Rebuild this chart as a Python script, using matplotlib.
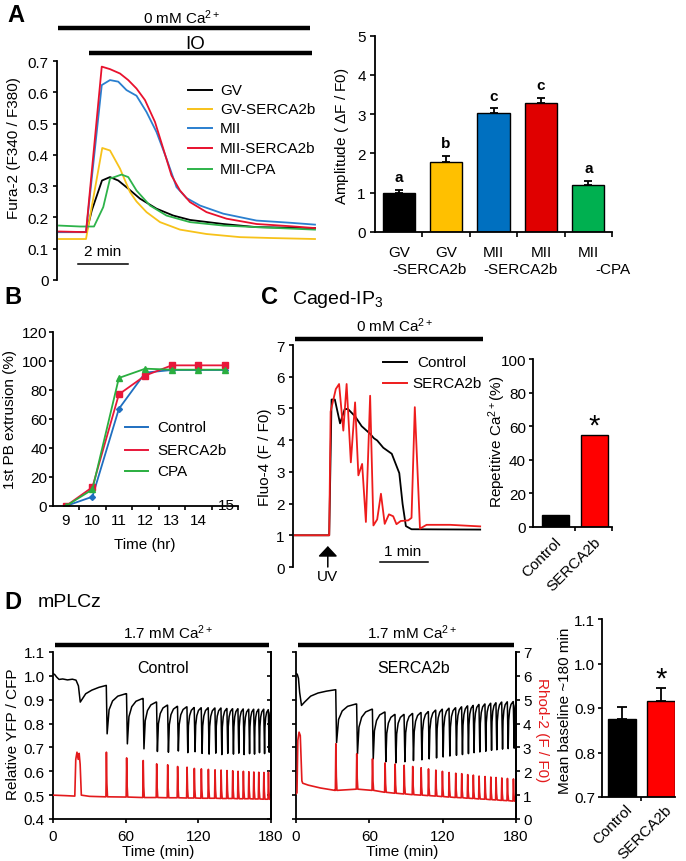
import matplotlib
matplotlib.use('Agg')
import matplotlib.pyplot as plt

# ---------------- data ----------------
# A: Fura-2 ratio traces (time in min from start of record)
gv_t = [0, 1.1, 1.31, 1.72, 2.04, 2.37, 2.77, 3.24, 3.9, 4.57, 5.24, 6.57, 7.9, 10.24]
gv_v = [0.153, 0.153, 0.222, 0.318, 0.329, 0.318, 0.292, 0.26, 0.228, 0.206, 0.192, 0.179, 0.169, 0.166]
gvs_t = [0, 1.08, 1.73, 2.04, 2.44, 2.84, 3.1, 3.5, 4.04, 4.84, 5.9, 7.24, 8.57, 10.24]
gvs_v = [0.131, 0.131, 0.422, 0.414, 0.356, 0.281, 0.251, 0.217, 0.185, 0.161, 0.147, 0.137, 0.134, 0.131]
mii_t = [0, 1.08, 1.71, 2.04, 2.37, 2.7, 3.1, 3.5, 3.9, 4.3, 4.7, 5.1, 5.64, 6.57, 7.9, 9.24, 10.24]
mii_v = [0.153, 0.153, 0.623, 0.639, 0.634, 0.607, 0.589, 0.537, 0.473, 0.388, 0.297, 0.262, 0.238, 0.212, 0.19, 0.183, 0.177]
miis_t = [0, 1.08, 1.71, 2.04, 2.44, 2.77, 3.1, 3.44, 3.84, 4.17, 4.5, 4.84, 5.24, 5.9, 6.7, 7.9, 9.24, 10.24]
miis_v = [0.155, 0.153, 0.682, 0.674, 0.66, 0.639, 0.612, 0.575, 0.505, 0.42, 0.334, 0.286, 0.249, 0.217, 0.196, 0.179, 0.172, 0.166]
cpa_t = [0, 0.84, 1.4, 1.77, 2.04, 2.5, 2.77, 3.1, 3.64, 4.3, 5.24, 6.57, 7.9, 10.24]
cpa_v = [0.174, 0.171, 0.171, 0.233, 0.324, 0.337, 0.329, 0.286, 0.238, 0.206, 0.185, 0.174, 0.169, 0.161]

# A: amplitude bars
amp_top = ['GV', 'GV', 'MII', 'MII', 'MII']
amp_sub = ['', '-SERCA2b', '', '-SERCA2b', '-CPA']
amp_mean = [0.99, 1.77, 3.02, 3.28, 1.19]
amp_err = [0.08, 0.17, 0.13, 0.14, 0.11]
amp_sig = ['a', 'b', 'c', 'c', 'a']

# B: 1st polar body extrusion (%)
pb_hr = [9, 10, 11, 12, 13, 14, 15]
pb_ctrl = [0, 6.4, 67, 92, 93.8, 93.8, 93.8]
pb_serca = [0, 13, 77, 90, 97, 97, 97]
pb_cpa = [0, 11.4, 88.3, 94.7, 94, 94, 94]

# C: caged-IP3 Fluo-4 traces (min)
ip3_ctrl_t = [0, 0.73, 0.78, 0.85, 0.96, 1.06, 1.13, 1.28, 1.42, 1.6, 1.68, 1.75, 1.88, 2.06, 2.22, 2.29, 2.36, 2.48, 3.94]
ip3_ctrl_v = [1.0, 1.0, 5.28, 5.28, 4.53, 4.98, 4.98, 4.75, 4.44, 4.2, 4.06, 3.99, 3.76, 3.57, 2.96, 1.99, 1.29, 1.19, 1.18]
ip3_serca_t = [0, 0.73, 0.76, 0.87, 0.94, 1.03, 1.1, 1.19, 1.28, 1.35, 1.43, 1.51, 1.6, 1.67, 1.75, 1.83,
               1.91, 2.0, 2.09, 2.16, 2.25, 2.41, 2.48, 2.55, 2.66, 2.8, 3.3, 3.94]
ip3_serca_v = [1.0, 1.0, 4.9, 5.61, 5.77, 4.3, 5.77, 3.3, 5.19, 2.89, 3.25, 1.42, 5.4, 1.31, 1.5, 2.31,
               1.36, 1.66, 1.6, 1.35, 1.45, 1.47, 1.55, 5.04, 1.21, 1.33, 1.33, 1.28]
rep_groups = ['Control', 'SERCA2b']
rep_pct = [6.9, 54.5]

# D: mPLCz oscillations, YFP/CFP (black) and Rhod-2 (red), time in min
ctrl_pre_t = [0, 1.5, 3, 5, 8, 12, 16, 19, 21, 22.5, 27, 32, 38]
ctrl_pre_v = [1.01, 1.005, 0.995, 0.985, 0.987, 0.983, 0.986, 0.982, 0.958, 0.89, 0.925, 0.94, 0.952]
ctrl_spk = [44, 60.7, 74.4, 85.5, 94.6, 102.8, 110.6, 116.6, 122.4, 128.2, 133.7, 138.7, 143.6,
            148.3, 152.7, 157.1, 161.6, 165.7, 169.8, 174.0, 177.8]
ctrl_top = [0.96, 0.925, 0.905, 0.89, 0.877, 0.872, 0.87, 0.867, 0.866, 0.866, 0.865, 0.865, 0.863,
            0.862, 0.862, 0.861, 0.86, 0.86, 0.86, 0.86, 0.858]
ctrl_low = [0.757, 0.715, 0.694, 0.683, 0.68, 0.685, 0.678, 0.682, 0.675, 0.672, 0.676, 0.67, 0.675,
            0.672, 0.676, 0.67, 0.674, 0.672, 0.678, 0.674, 0.68]
ctrl_red_pre_t = [0, 10, 18, 18.8, 19.8, 20.8, 21.6, 22.4, 23.4, 30, 43]
ctrl_red_pre_v = [1.0, 0.98, 0.96, 2.5, 2.8, 2.5, 2.75, 2.3, 1.0, 0.95, 0.93]
ctrl_peak = [2.8, 2.56, 2.45, 2.31, 2.27, 2.2, 2.17, 2.12, 2.1, 2.08, 2.06, 2.05, 2.03, 2.02, 2.0,
             2.0, 1.98, 1.97, 1.96, 1.95, 1.96]
ctrl_base = [0.93, 0.92, 0.9, 0.9, 0.89, 0.89, 0.88, 0.88, 0.87, 0.87, 0.87, 0.86, 0.86, 0.86, 0.85,
             0.85, 0.85, 0.84, 0.84, 0.83, 0.83]

serca_pre_t = [0, 1, 2, 3, 4.5, 7, 12, 18, 25]
serca_pre_v = [1.01, 1.007, 0.99, 0.93, 0.876, 0.89, 0.915, 0.928, 0.936]
serca_spk = [32.5, 49.6, 62.5, 72.8, 81, 88.4, 95.4, 102.3, 108.3, 114.3, 119.7, 125.2, 130.6, 135.5,
             140.4, 145, 149.7, 154.6, 159.3, 163.6, 168.3, 172.9, 177.8]
serca_top = [0.942, 0.882, 0.86, 0.848, 0.838, 0.838, 0.842, 0.846, 0.85, 0.856, 0.86, 0.864, 0.866,
             0.87, 0.874, 0.876, 0.88, 0.882, 0.885, 0.887, 0.89, 0.891, 0.892]
serca_low = [0.72, 0.673, 0.652, 0.64, 0.635, 0.64, 0.645, 0.648, 0.652, 0.656, 0.66, 0.664, 0.667,
             0.67, 0.674, 0.678, 0.681, 0.684, 0.688, 0.69, 0.693, 0.695, 0.697]
serca_red_pre_t = [0, 0.8, 1.5, 2.5, 3.5, 4.2, 4.8, 5.5, 10, 20, 31.8]
serca_red_pre_v = [1.05, 1.1, 3.3, 3.64, 3.5, 2.5, 1.6, 1.5, 1.42, 1.3, 1.2]
serca_peak = [3.15, 2.73, 2.52, 2.35, 2.3, 2.25, 2.2, 2.15, 2.1, 2.05, 2.0, 1.95, 1.92, 1.9, 1.86,
              1.84, 1.8, 1.78, 1.76, 1.74, 1.72, 1.7, 1.68]
serca_base = [1.2, 1.25, 1.2, 1.12, 1.08, 1.05, 1.02, 1.0, 0.98, 0.96, 0.94, 0.92, 0.9, 0.89, 0.87,
              0.86, 0.84, 0.83, 0.81, 0.8, 0.78, 0.77, 0.75]

base_groups = ['Control', 'SERCA2b']
base_mean = [0.875, 0.915]
base_err = [0.027, 0.029]

# ---------------- figure set-up ----------------
plt.rcParams['font.family'] = ['Liberation Sans', 'DejaVu Sans']
plt.rcParams['font.size'] = 11
plt.rcParams['mathtext.fontset'] = 'custom'
plt.rcParams['mathtext.rm'] = 'Liberation Sans'
plt.rcParams['mathtext.it'] = 'Liberation Sans:italic'
plt.rcParams['axes.linewidth'] = 1.3

W, H = 686, 862
fig = plt.figure(figsize=(W / 100, H / 100), dpi=100)


def add_ax(x0, y0, x1, y1):
    # axes from pixel box (top-left origin)
    ax = fig.add_axes([x0 / W, 1 - y1 / H, (x1 - x0) / W, (y1 - y0) / H])
    ax.tick_params(direction='out', length=3, width=1.2, labelsize=11, pad=2)
    for s in ['top', 'right']:
        ax.spines[s].set_visible(False)
    return ax


def ftext(x, y, s, **kw):
    fig.text(x / W, 1 - y / H, s, **kw)


def fline(x0, x1, y, **kw):
    fig.add_artist(plt.Line2D([x0 / W, x1 / W], [1 - y / H, 1 - y / H], **kw))


def saw(pre_t, pre_v, spk, top, low, end_t, end_v):
    # black YFP/CFP trace: sharp drop at each spike, then slow recovery
    tt, vv = list(pre_t), list(pre_v)
    rec_t = [0.1, 0.28, 0.55, 0.96]
    rec_f = [0.6, 0.82, 0.94, 1.0]
    nxt_t = spk[1:] + [end_t]
    nxt_v = top[1:] + [end_v]
    for s, a, b, s2, a2 in zip(spk, top, low, nxt_t, nxt_v):
        tt += [s, s + 0.7]
        vv += [a, b]
        dur = s2 - s - 0.7
        for f, g in zip(rec_t, rec_f):
            tt.append(s + 0.7 + f * dur)
            vv.append(b + g * (a2 - b))
    return tt, vv


def spikes(pre_t, pre_v, spk, peak, base, end_v):
    tt, vv = list(pre_t), list(pre_v)
    for s, p, b in zip(spk, peak, base):
        tt += [s - 0.3, s + 0.1, s + 0.5, s + 1.0]
        vv += [b, p, b + 0.3 * (p - b), b]
    tt.append(180)
    vv.append(end_v)
    return tt, vv


# ================= Panel A left =================
axA = add_ax(57, 62, 316, 281)
axA.spines['bottom'].set_visible(False)
axA.set_xlim(-0.08, 10.28)
axA.set_ylim(0, 0.7)
axA.set_xticks([])
axA.set_yticks([0, 0.1, 0.2, 0.3, 0.4, 0.5, 0.6, 0.7])
axA.set_yticklabels(['0', '0.1', '0.2', '0.3', '0.4', '0.5', '0.6', '0.7'])
axA.tick_params(axis='y', pad=3)
colA = {'GV': 'black', 'GV-SERCA2b': '#F7C21A', 'MII': '#2A7FCF',
        'MII-SERCA2b': '#E8112D', 'MII-CPA': '#2DB34A'}
axA.plot(gv_t, gv_v, color=colA['GV'], lw=1.3)
axA.plot(gvs_t, gvs_v, color=colA['GV-SERCA2b'], lw=1.3)
axA.plot(cpa_t, cpa_v, color=colA['MII-CPA'], lw=1.3)
axA.plot(mii_t, mii_v, color=colA['MII'], lw=1.3)
axA.plot(miis_t, miis_v, color=colA['MII-SERCA2b'], lw=1.3)
for (name, c), y in zip(colA.items(), [91, 110, 129, 149, 170]):
    fline(188, 212, y, color=c, lw=1.4)
    ftext(220, y, name, va='center', ha='left', fontsize=11)
axA.plot([-0.04, 10.05], [0.804, 0.804], color='black', lw=3.2, clip_on=False, solid_capstyle='butt')
axA.plot([1.2, 10.1], [0.724, 0.724], color='black', lw=3.2, clip_on=False, solid_capstyle='butt')
axA.text(4.9, 0.84, '0 mM Ca$^{2+}$', ha='center', va='center', fontsize=11)
axA.text(5.45, 0.757, 'IO', ha='center', va='center', fontsize=13.5)
axA.plot([0.76, 2.76], [0.051, 0.051], color='black', lw=1.1, clip_on=False)
axA.text(1.76, 0.093, '2 min', ha='center', va='center', fontsize=11)
ftext(14, 148, 'Fura-2 (F340 / F380)', rotation=90, ha='center', va='center')
ftext(16, 16, 'A', fontsize=17, fontweight='bold', ha='center', va='center')

# ================= Panel A right =================
axB = add_ax(375, 36.7, 612, 232.7)
xa = [1, 2, 3, 4, 5]
bar_cols = ['black', '#FFC000', '#0070C0', '#E00000', '#00B050']
axB.bar(xa, amp_mean, width=0.68, color=bar_cols, edgecolor='black', lw=1)
axB.errorbar(xa, amp_mean, yerr=[[0] * 5, amp_err], fmt='none', ecolor='black', elinewidth=1.3,
             capsize=3, capthick=1.3)
for x, m, e, s in zip(xa, amp_mean, amp_err, amp_sig):
    axB.text(x, m + e + 0.32, s, ha='center', va='center', fontweight='bold', fontsize=11)
axB.set_xlim(0.5, 5.5)
axB.set_ylim(0, 5)
axB.set_yticks(range(6))
axB.tick_params(length=3.6, pad=3)
axB.set_xticks([1.5, 2.5, 3.5, 4.5, 5.5])
axB.set_xticklabels([])
tr = axB.get_xaxis_transform()
for x, a, b, dx in zip(xa, amp_top, amp_sub, [0, -0.34, 0, -0.42, 0.53]):
    axB.text(x, -0.104, a, transform=tr, ha='center', va='center', fontsize=11)
    axB.text(x + dx, -0.19, b, transform=tr, ha='center', va='center', fontsize=11)
ftext(342, 136, 'Amplitude ( $\\Delta$F / F0)', rotation=90, ha='center', va='center')

# ================= Panel B =================
axC = add_ax(52.7, 333, 238, 507)
axC.plot(pb_hr, pb_ctrl, color='#1F6FC0', lw=1.3, marker='D', ms=3)
axC.plot(pb_hr, pb_serca, color='#E8173A', lw=1.3, marker='s', ms=4.5)
axC.plot(pb_hr, pb_cpa, color='#2AAE3F', lw=1.3, marker='^', ms=4.5)
axC.set_xlim(8.5, 15.5)
axC.set_ylim(0, 120)
axC.set_yticks(range(0, 121, 20))
axC.tick_params(axis='y', pad=1)
axC.set_xticks([9.5, 10.5, 11.5, 12.5, 13.5, 14.5, 15.5])
axC.set_xticklabels([])
axC.set_xticks(pb_hr[:-1], minor=True)
axC.set_xticklabels([str(h) for h in pb_hr[:-1]], minor=True)
axC.tick_params(axis='x', which='minor', length=0, pad=5)
axC.text(15.05, 1, str(pb_hr[-1]), ha='center', va='center', fontsize=11)
for name, c, y in zip(['Control', 'SERCA2b', 'CPA'], ['#1F6FC0', '#E8173A', '#2AAE3F'], [428, 451, 472]):
    fline(125, 148, y, color=c, lw=1.4)
    ftext(157, y, name, va='center', ha='left', fontsize=11)
ftext(145, 545, 'Time (hr)', ha='center', va='center')
ftext(10, 420, '1st PB extrusion (%)', rotation=90, ha='center', va='center')
ftext(13, 298, 'B', fontsize=17, fontweight='bold', ha='center', va='center')

# ================= Panel C left =================
axD = add_ax(293, 346, 483, 568)
axD.spines['bottom'].set_visible(False)
axD.set_xlim(-0.04, 4.0)
axD.set_ylim(0, 7)
axD.set_xticks([])
axD.set_yticks(range(8))
axD.tick_params(axis='y', pad=3)
axD.plot(ip3_ctrl_t, ip3_ctrl_v, color='black', lw=1.3)
axD.plot(ip3_serca_t, ip3_serca_v, color='#EE1C1C', lw=1.3)
axD.plot([0, 4.0], [7.19, 7.19], color='black', lw=3.2, clip_on=False, solid_capstyle='butt')
axD.text(2.13, 7.63, '0 mM Ca$^{2+}$', ha='center', va='center', fontsize=11)
axD.annotate('', xy=(0.70, 0.66), xytext=(0.70, 0.0), annotation_clip=False,
             arrowprops=dict(arrowstyle='-|>,head_length=0.45,head_width=0.42', color='black',
                             lw=1.1, mutation_scale=14, shrinkA=0, shrinkB=0))
axD.text(0.70, -0.27, 'UV', ha='center', va='center', fontsize=11)
axD.plot([1.81, 2.82], [0.17, 0.17], color='black', lw=1.1, clip_on=False)
axD.text(2.3, 0.51, '1 min', ha='center', va='center', fontsize=11)
fline(383, 407, 363, color='black', lw=1.4)
ftext(417, 363, 'Control', va='center', ha='left', fontsize=11)
fline(383, 407, 384, color='#EE1C1C', lw=1.4)
ftext(412, 384, 'SERCA2b', va='center', ha='left', fontsize=11)
ftext(265, 457, 'Fluo-4 (F / F0)', rotation=90, ha='center', va='center')
ftext(270, 298, 'C', fontsize=17, fontweight='bold', ha='center', va='center')
ftext(292, 300, 'Caged-IP$_3$', fontsize=14, ha='left', va='center')

# ================= Panel C right =================
axE = add_ax(533, 360, 612, 528)
axE.bar([0, 1], rep_pct, width=0.68, color=['black', '#FF0000'], edgecolor='black', lw=1)
axE.set_xlim(-0.56, 1.44)
axE.set_ylim(0, 100)
axE.set_yticks(range(0, 101, 20))
axE.set_xticks([0.5, 1.44])
axE.set_xticklabels([])
trE = axE.get_xaxis_transform()
for x, s in zip([0, 1], rep_groups):
    axE.text(x + 0.22, -0.045, s, transform=trE, rotation=45, ha='right', va='top', fontsize=11)
axE.text(1, rep_pct[1] + 6, '*', ha='center', va='center', fontsize=21)
ftext(497, 442, 'Repetitive Ca$^{2+}$(%)', rotation=90, ha='center', va='center')

# ================= Panel D traces =================
for (x0, x1), pre, red, lab, lab_x, show_right in [
        ((53, 271), (ctrl_pre_t, ctrl_pre_v, ctrl_spk, ctrl_top, ctrl_low, 180, 0.855),
         (ctrl_red_pre_t, ctrl_red_pre_v, ctrl_spk, ctrl_peak, ctrl_base, 0.82), 'Control', 90.8, False),
        ((296, 516), (serca_pre_t, serca_pre_v, serca_spk, serca_top, serca_low, 180, 0.885),
         (serca_red_pre_t, serca_red_pre_v, serca_spk, serca_peak, serca_base, 0.74), 'SERCA2b', 96.5, True)]:
    ax = add_ax(x0, 653, x1, 820)
    ax.spines['right'].set_visible(True)
    ax.set_xlim(0, 180)
    ax.set_ylim(0.4, 1.1)
    ax.set_xticks([0, 60, 120, 180])
    ax.set_yticks([0.4, 0.5, 0.6, 0.7, 0.8, 0.9, 1.0, 1.1])
    if show_right:
        ax.set_yticklabels([])
    else:
        ax.set_yticklabels(['0.4', '0.5', '0.6', '0.7', '0.8', '0.9', '1.0', '1.1'])
    ax.tick_params(axis='y', pad=3)
    ax.tick_params(axis='x', pad=4)
    bt, bv = saw(*pre)
    ax.plot(bt, bv, color='black', lw=1.1)
    axr = ax.twinx()
    axr.set_ylim(0, 7)
    axr.set_yticks(range(8))
    for s in ['top', 'left', 'bottom']:
        axr.spines[s].set_visible(False)
    axr.spines['right'].set_linewidth(1.3)
    if show_right:
        axr.tick_params(axis='y', direction='out', length=3, width=1.2, labelsize=11, pad=2)
    else:
        axr.tick_params(axis='y', direction='in', length=3, width=1.2, labelright=False)
    rt, rv = spikes(*red)
    axr.plot(rt, rv, color='#E31A1C', lw=1.2)
    ax.plot([1.6, 178.6], [1.129, 1.129], color='black', lw=3.2, clip_on=False, solid_capstyle='butt')
    ax.text(95, 1.184, '1.7 mM Ca$^{2+}$', ha='center', va='center', fontsize=11)
    ax.text(lab_x, 1.037, lab, ha='center', va='center', fontsize=11.5)
    ftext((x0 + x1) / 2 - 4, 852, 'Time (min)', ha='center', va='center')

ftext(13, 734, 'Relative YFP / CFP', rotation=90, ha='center', va='center')
ftext(542, 730, 'Rhod-2 (F / F0)', rotation=-90, ha='center', va='center', color='#E31A1C')
ftext(13, 603, 'D', fontsize=17, fontweight='bold', ha='center', va='center')
ftext(38, 603, 'mPLCz', fontsize=14, ha='left', va='center')

# ================= Panel D right =================
axF = add_ax(602, 620, 675, 798)
axF.bar([0, 1], base_mean, width=0.7, color=['black', '#FF0000'], edgecolor='black', lw=1)
axF.errorbar([0, 1], base_mean, yerr=[[0, 0], base_err], fmt='none', ecolor='black', elinewidth=1.3,
             capsize=3.5, capthick=1.3)
axF.set_xlim(-0.5, 1.35)
axF.set_ylim(0.7, 1.1)
axF.set_yticks([0.7, 0.8, 0.9, 1.0, 1.1])
axF.set_yticklabels(['0.7', '0.8', '0.9', '1.0', '1.1'])
axF.set_xticks([0.5])
axF.set_xticklabels([])
trF = axF.get_xaxis_transform()
for x, s in zip([0, 1], base_groups):
    axF.text(x + 0.33, -0.028, s, transform=trF, rotation=45, ha='right', va='top', fontsize=11)
axF.text(1, base_mean[1] + base_err[1] + 0.022, '*', ha='center', va='center', fontsize=21)
ftext(565, 711, 'Mean baseline ~180 min', rotation=90, ha='center', va='center')

fig.savefig('out.png', dpi=100)
